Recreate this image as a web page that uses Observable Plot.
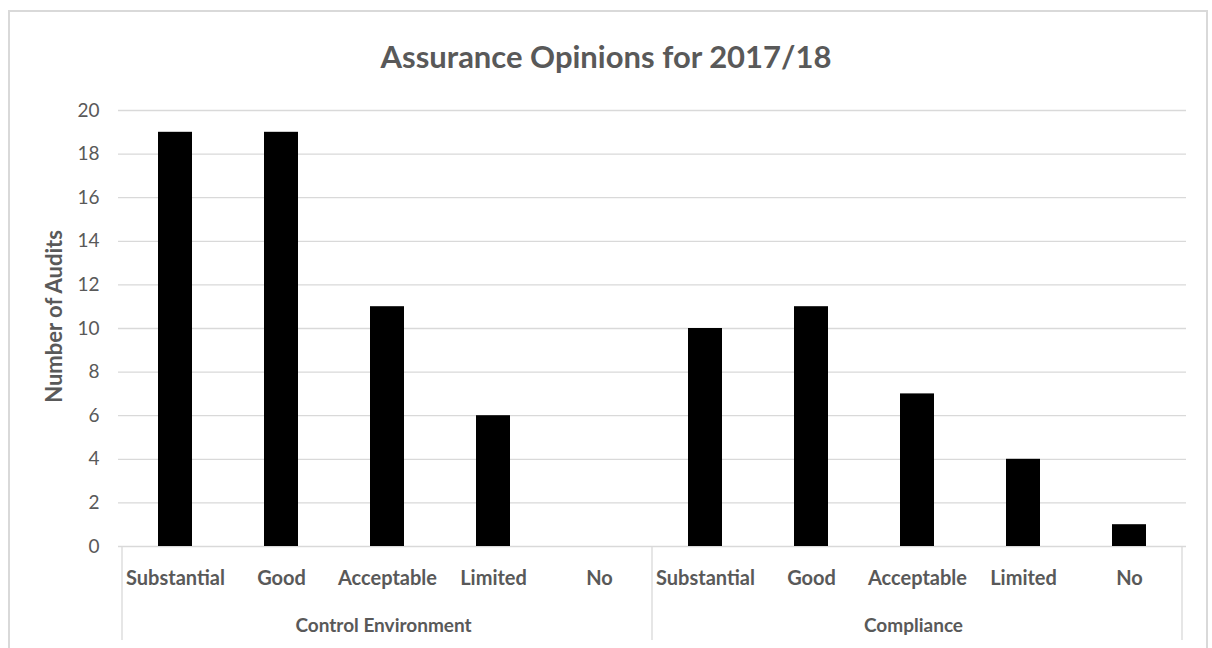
<!DOCTYPE html>
<html>
<head>
<meta charset="utf-8">
<script src="https://cdn.jsdelivr.net/npm/d3@7"></script>
<script src="https://cdn.jsdelivr.net/npm/@observablehq/plot@0.6"></script>
<style>
  body { margin: 0; background: #fff; }
  #wrap { position: relative; width: 1212px; height: 648px; overflow: hidden; font-family: Lato, "Open Sans", sans-serif; }
  #border { position: absolute; left: 8px; top: 10px; width: 1200px; height: 650px; border: 2px solid #d9d9d9; box-sizing: border-box; }
  #title { position: absolute; top: 36px; left: 0; width: 1212px; text-align: center; font-size: 31px; font-weight: bold; color: #595959; line-height: 40px; }
  #chart { position: absolute; top: 90px; left: 0; }
</style>
</head>
<body>
<div id="wrap">
  <div id="border"></div>
  <div id="title">Assurance Opinions for 2017/18</div>
  <div id="chart"></div>
</div>
<script>
const groups = ["Control Environment", "Compliance"];
const categories = ["Substantial", "Good", "Acceptable", "Limited", "No"];
const controlEnvironment = [19, 19, 11, 6, 0];
const compliance = [10, 11, 7, 4, 1];
const yTicks = [0, 2, 4, 6, 8, 10, 12, 14, 16, 18, 20];
const yLabel = "Number of Audits";

const seriesByGroup = [controlEnvironment, compliance];
const data = [];
groups.forEach((g, gi) => categories.forEach((c, ci) => data.push({group: g, category: c, key: g + "|" + c, value: seriesByGroup[gi][ci]})));
const keys = data.map(d => d.key);
const groupCenters = groups.map(g => ({group: g, key: g + "|" + categories[Math.floor(categories.length / 2)]}));

const grey = "#595959";
const plot = Plot.plot({
  width: 1212,
  height: 558,
  marginLeft: 118,
  marginRight: 26,
  marginTop: 20,
  marginBottom: 102,
  style: {fontFamily: "Lato, 'Open Sans', sans-serif", color: grey, background: "transparent"},
  x: {domain: keys, paddingInner: 0.68, paddingOuter: 0.34, label: null, axis: null},
  y: {domain: [0, 20], label: null, axis: null},
  marks: [
    Plot.gridY(yTicks, {stroke: "#d9d9d9", strokeOpacity: 1, strokeWidth: 1.3}),
    Plot.barY(data, {x: "key", y: "value", fill: "#000"}),
    Plot.axisY(yTicks, {tickSize: 0, tickPadding: 19, fontSize: 19, label: null, fill: grey}),
    Plot.text([yLabel], {frameAnchor: "left", textAnchor: "middle", lineAnchor: "middle", rotate: -90, dx: -64, dy: -12, fontSize: 22, fontWeight: "bold", fill: grey}),
    Plot.axisX({tickSize: 0, tickPadding: 24, fontSize: 20, fontWeight: "bold", fill: grey, tickFormat: d => d.split("|")[1], label: null}),
    Plot.text(groupCenters, {x: "key", frameAnchor: "bottom", dy: 79, dx: -4, text: "group", fontSize: 19, fontWeight: "bold", fill: grey, lineAnchor: "middle"})
  ]
});
document.getElementById("chart").appendChild(plot);

// group separators in the axis area, positioned from the x scale
const xs = plot.scale("x");
const step = xs.step, bw = xs.bandwidth;
const gap = (step - bw) / 2;
const yb = plot.scale("y").apply(0);
const bounds = [];
groups.forEach((g, gi) => {
  const first = g + "|" + categories[0];
  const last = g + "|" + categories[categories.length - 1];
  if (gi === 0) bounds.push(xs.apply(first) - gap);
  bounds.push(xs.apply(last) + bw + gap);
});
const svg = d3.select(plot);
svg.append("g").selectAll("line").data(bounds).join("line")
  .attr("x1", d => d).attr("x2", d => d)
  .attr("y1", yb).attr("y2", 550)
  .attr("stroke", "#d9d9d9").attr("stroke-width", 1.3);
</script>
</body>
</html>
